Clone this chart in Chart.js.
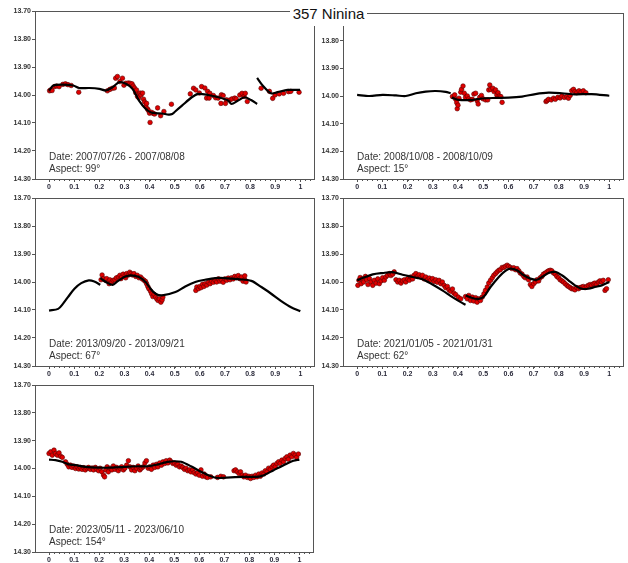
<!DOCTYPE html>
<html>
<head>
<meta charset="utf-8">
<script src="https://cdn.jsdelivr.net/npm/chart.js@4.4.1/dist/chart.umd.min.js"></script>
<style>
  html, body { margin: 0; padding: 0; background: #fff; }
  body { width: 628px; height: 563px; position: relative; overflow: hidden; font-family: "Liberation Sans", Arial, sans-serif; }
  .panel { position: absolute; }
  #title {
    position: absolute; left: 290px; top: 0; width: 77px; height: 26px;
    background: #fff; z-index: 5; text-align: center;
    font-size: 15px; line-height: 27px; color: #111;
  }
</style>
</head>
<body>
<div id="title">357 Ninina</div>
<div class="panel" id="w1"><canvas id="c1"></canvas></div>
<div class="panel" id="w2"><canvas id="c2"></canvas></div>
<div class="panel" id="w3"><canvas id="c3"></canvas></div>
<div class="panel" id="w4"><canvas id="c4"></canvas></div>
<div class="panel" id="w5"><canvas id="c5"></canvas></div>
<script>
// --- axes ---
const xTicks = [0, 0.1, 0.2, 0.3, 0.4, 0.5, 0.6, 0.7, 0.8, 0.9, 1];
const yTicks = [13.7, 13.8, 13.9, 14.0, 14.1, 14.2, 14.3];

// --- annotations ---
const dates = ['2007/07/26 - 2007/08/08', '2008/10/08 - 2008/10/09', '2013/09/20 - 2013/09/21', '2021/01/05 - 2021/01/31', '2023/05/11 - 2023/06/10'];
const aspects = [99, 15, 67, 62, 154];

// --- panel 1 (2007) : model line [phase, mag], null = break ---
const p1Model = [[0,13.984],[0.017,13.966],[0.056,13.963],[0.096,13.966],[0.12,13.975],[0.16,13.975],[0.2,13.978],[0.227,13.984],
  [0.253,13.972],[0.28,13.954],[0.306,13.96],[0.332,13.978],[0.358,14.02],[0.385,14.05],[0.411,14.064],[0.45,14.066],[0.476,14.07],
  [0.49,14.068],[0.503,14.058],[0.529,14.038],[0.568,14.008],[0.594,13.996],[0.634,14.0],[0.673,14.008],[0.713,14.02],[0.726,14.032],
  [0.752,14.02],[0.778,14.008],[0.804,14.018],[0.828,14.032], null,
  [0.828,13.939],[0.85,13.966],[0.883,13.994],[0.909,13.99],[0.949,13.982],[0.999,13.982]];
const p1Obs = [[0.002,13.985],[0.006,13.982],[0.012,13.984],[0.022,13.97],[0.03,13.968],[0.04,13.97],[0.055,13.962],[0.065,13.96],
  [0.075,13.963],[0.088,13.966],[0.118,13.99],[0.232,13.985],[0.242,13.98],[0.252,13.976],[0.26,13.975],[0.265,13.94],[0.272,13.934],
  [0.282,13.952],[0.292,13.94],[0.298,13.965],[0.305,13.958],[0.315,13.957],[0.322,13.958],[0.33,13.96],[0.335,13.968],[0.34,13.975],
  [0.345,13.992],[0.348,13.982],[0.352,14.005],[0.357,14.01],[0.362,13.993],[0.366,14.0],[0.372,13.993],[0.376,14.015],[0.38,14.025],
  [0.385,14.04],[0.388,14.03],[0.392,14.05],[0.395,14.055],[0.4,14.065],[0.402,14.098],[0.408,14.062],[0.415,14.066],[0.42,14.068],
  [0.432,14.046],[0.444,14.074],[0.457,14.059],[0.487,14.033],[0.562,13.996],[0.575,13.976],[0.584,13.982],[0.598,13.993],[0.607,13.97],
  [0.62,13.975],[0.627,14.011],[0.631,13.987],[0.637,14.011],[0.64,13.994],[0.654,14.002],[0.663,14.01],[0.673,14.011],[0.684,14.03],
  [0.686,13.999],[0.693,14.002],[0.702,14.03],[0.706,14.017],[0.719,14.018],[0.728,14.014],[0.739,14.011],[0.745,14.014],[0.759,14.0],
  [0.768,13.994],[0.776,14.005],[0.781,13.994],[0.789,14.023],[0.844,13.976],[0.877,13.987],[0.89,14.012],[0.899,14.0],[0.916,13.996],
  [0.933,13.994],[0.953,13.988],[0.962,13.987],[0.995,13.99]];

// --- panel 2 (2008) ---
const p2Model = [[0,13.996],[0.049,14.0],[0.101,13.996],[0.154,13.998],[0.193,14.0],[0.233,13.99],[0.272,13.984],[0.312,13.982],
  [0.351,13.985],[0.371,13.99], null,
  [0.375,14.006],[0.404,14.014],[0.457,14.014],[0.496,14.009],[0.549,14.007],[0.601,14.006],[0.654,14.002],[0.707,13.993],
  [0.759,13.988],[0.812,13.99],[0.864,13.994],[0.93,13.993],[1.0,13.999]];
const p2Obs = [[0.378,14.002],[0.387,13.996],[0.391,14.012],[0.395,14.024],[0.397,14.046],[0.4,14.033],[0.404,14.008],[0.411,13.986],
  [0.414,13.976],[0.42,13.964],[0.425,13.99],[0.43,14.005],[0.437,14.0],[0.443,14.01],[0.45,14.014],[0.457,14.012],[0.463,13.993],
  [0.47,13.99],[0.476,14.017],[0.48,14.029],[0.486,14.005],[0.493,13.998],[0.499,14.01],[0.509,14.014],[0.518,14.014],[0.522,13.978],
  [0.526,13.96],[0.53,13.976],[0.538,13.972],[0.543,13.984],[0.549,13.978],[0.554,13.996],[0.559,13.988],[0.564,14.0],[0.57,14.002],
  [0.575,14.023],[0.749,14.02],[0.753,14.017],[0.759,14.012],[0.77,14.014],[0.779,14.008],[0.786,14.012],[0.796,14.005],[0.805,14.007],
  [0.812,14.0],[0.822,14.005],[0.832,14.002],[0.838,14.008],[0.845,13.998],[0.851,13.981],[0.858,13.976],[0.864,13.984],[0.871,13.988],
  [0.88,13.981],[0.888,13.986],[0.897,13.981],[0.907,13.988]];

// --- panel 3 (2013) ---
const p3Model = [[0,14.102],[0.036,14.096],[0.055,14.078],[0.075,14.054],[0.101,14.024],[0.128,14.004],[0.158,13.994],[0.18,13.998],
  [0.204,14.01], null,
  [0.204,13.986],[0.226,14.0],[0.253,14.01],[0.272,13.998],[0.299,13.982],[0.325,13.976],[0.358,13.982],[0.384,14.0],[0.404,14.024],
  [0.424,14.042],[0.45,14.048],[0.503,14.036],[0.542,14.016],[0.582,14.0],[0.621,13.992],[0.661,13.986],[0.7,13.986],[0.753,13.99],
  [0.805,13.996],[0.845,14.018],[0.884,14.042],[0.924,14.068],[0.963,14.09],[1.0,14.104]];
const p3Obs = [[0.207,13.992],[0.211,13.975],[0.216,13.988],[0.224,13.994],[0.229,13.988],[0.237,13.997],[0.239,14.006],[0.242,13.992],
  [0.25,14.0],[0.255,13.994],[0.262,13.992],[0.268,13.985],[0.276,13.982],[0.282,13.976],[0.286,13.988],[0.289,13.982],[0.295,13.972],
  [0.303,13.977],[0.305,13.985],[0.309,13.97],[0.316,13.975],[0.321,13.965],[0.326,13.97],[0.332,13.975],[0.338,13.97],[0.345,13.98],
  [0.351,13.976],[0.358,13.985],[0.364,13.982],[0.371,13.989],[0.378,13.994],[0.384,13.998],[0.388,14.006],[0.393,14.016],[0.397,14.024],
  [0.404,14.033],[0.408,14.042],[0.413,14.052],[0.418,14.044],[0.424,14.054],[0.429,14.061],[0.434,14.066],[0.439,14.06],[0.445,14.072],
  [0.45,14.064],[0.453,14.054],[0.584,14.03],[0.588,14.018],[0.595,14.024],[0.6,14.016],[0.605,14.02],[0.611,14.008],[0.616,14.016],
  [0.621,14.006],[0.628,14.011],[0.634,14.001],[0.641,14.006],[0.647,13.997],[0.654,14.001],[0.661,13.994],[0.667,14.0],[0.674,13.989],
  [0.68,13.997],[0.687,13.992],[0.693,14.001],[0.7,13.989],[0.707,13.994],[0.713,13.986],[0.72,13.992],[0.726,13.985],[0.733,13.989],
  [0.739,13.98],[0.746,13.985],[0.753,13.977],[0.759,13.988],[0.766,13.982],[0.772,13.997],[0.779,13.992],[0.779,13.978],[0.784,14.0]];

// --- panel 4 (2021) ---
const p4Model = [[0,13.994],[0.022,13.986],[0.062,13.973],[0.101,13.968],[0.141,13.965],[0.18,13.974],[0.22,13.982],[0.259,13.99],
  [0.299,14.009],[0.338,14.03],[0.378,14.054],[0.411,14.072],[0.43,14.081], null,
  [0.43,14.048],[0.457,14.057],[0.483,14.06],[0.503,14.052],[0.529,14.018],[0.562,13.982],[0.588,13.96],[0.608,13.952],[0.634,13.958],
  [0.661,13.976],[0.687,13.988],[0.713,13.992],[0.733,13.982],[0.759,13.968],[0.786,13.964],[0.812,13.976],[0.838,13.994],
  [0.864,14.012],[0.891,14.024],[0.917,14.024],[0.943,14.018],[0.97,14.012],[1.0,14.0]];
const p4Obs = [[0.003,14.012],[0.007,13.994],[0.012,13.984],[0.016,14.006],[0.022,13.988],[0.026,14.0],[0.033,13.98],[0.038,13.992],
  [0.043,14.009],[0.049,13.988],[0.055,14.0],[0.062,14.012],[0.068,13.994],[0.075,14.004],[0.082,13.989],[0.088,14.006],[0.095,13.996],
  [0.101,13.985],[0.108,13.994],[0.114,13.982],[0.121,13.976],[0.128,13.97],[0.134,13.977],[0.141,13.972],[0.147,13.964],[0.154,13.992],
  [0.161,14.0],[0.167,13.994],[0.174,14.004],[0.18,13.996],[0.187,13.992],[0.193,14.0],[0.2,13.989],[0.207,13.994],[0.213,13.982],
  [0.22,13.989],[0.226,13.976],[0.233,13.97],[0.239,13.98],[0.246,13.974],[0.253,13.982],[0.259,13.976],[0.266,13.989],[0.272,13.982],
  [0.279,13.992],[0.286,13.986],[0.292,13.994],[0.299,13.988],[0.305,13.998],[0.312,13.992],[0.318,14.001],[0.325,13.994],[0.332,14.006],
  [0.338,14.0],[0.345,14.012],[0.351,14.02],[0.358,14.016],[0.364,14.028],[0.371,14.033],[0.378,14.025],[0.384,14.04],[0.391,14.045],
  [0.401,14.054],[0.411,14.06],[0.43,14.052],[0.437,14.06],[0.443,14.048],[0.45,14.066],[0.457,14.054],[0.463,14.068],[0.47,14.056],
  [0.476,14.072],[0.483,14.06],[0.489,14.066],[0.496,14.054],[0.503,14.042],[0.509,14.03],[0.516,14.018],[0.522,14.004],[0.529,13.994],
  [0.536,13.985],[0.542,13.976],[0.549,13.97],[0.555,13.964],[0.562,13.958],[0.568,13.956],[0.575,13.948],[0.582,13.948],[0.588,13.944],
  [0.595,13.94],[0.601,13.944],[0.608,13.948],[0.614,13.952],[0.621,13.949],[0.628,13.956],[0.634,13.952],[0.641,13.96],[0.647,13.968],
  [0.654,13.972],[0.661,13.98],[0.667,13.985],[0.674,13.982],[0.68,13.992],[0.687,14.009],[0.693,14.016],[0.7,14.006],[0.707,14.0],
  [0.713,13.992],[0.72,13.996],[0.726,13.985],[0.733,13.98],[0.739,13.972],[0.746,13.968],[0.753,13.964],[0.759,13.96],[0.766,13.958],
  [0.772,13.96],[0.779,13.968],[0.786,13.972],[0.792,13.98],[0.799,13.985],[0.805,13.992],[0.812,13.996],[0.818,14.0],[0.825,14.006],
  [0.832,14.012],[0.838,14.016],[0.845,14.02],[0.851,14.024],[0.858,14.025],[0.864,14.028],[0.871,14.02],[0.878,14.024],[0.884,14.02],
  [0.891,14.018],[0.897,14.016],[0.904,14.02],[0.911,14.016],[0.917,14.012],[0.924,14.009],[0.93,14.012],[0.937,14.006],[0.943,14.004],
  [0.95,14.009],[0.957,14.0],[0.963,13.996],[0.97,14.0],[0.976,13.994],[0.983,14.03],[0.989,14.024],[0.996,13.992]];

// --- panel 5 (2023) ---
const p5Model = [[0,13.968],[0.026,13.97],[0.053,13.976],[0.079,13.985],[0.106,13.988],[0.145,13.994],[0.198,13.997],[0.251,13.997],
  [0.303,13.994],[0.356,13.992],[0.396,13.992],[0.435,13.985],[0.475,13.976],[0.501,13.974],[0.528,13.976],[0.567,13.992],[0.607,14.012],
  [0.646,14.028],[0.673,14.034],[0.726,14.032],[0.778,14.03],[0.831,14.03],[0.858,14.024],[0.897,14.006],[0.937,13.988],[0.976,13.972],
  [1.0,13.968]];
const p5Obs = [[0,13.946],[0.007,13.94],[0.013,13.952],[0.02,13.934],[0.026,13.946],[0.033,13.952],[0.04,13.944],[0.046,13.956],
  [0.053,13.96],[0.066,13.976],[0.073,13.985],[0.079,13.994],[0.086,13.988],[0.092,13.996],[0.099,13.991],[0.106,14.0],[0.112,13.994],
  [0.119,14.002],[0.125,13.996],[0.132,14.003],[0.139,13.997],[0.145,14.005],[0.152,13.999],[0.158,13.996],[0.165,14.003],[0.172,13.998],
  [0.178,14.005],[0.185,13.996],[0.191,14.003],[0.198,14.008],[0.204,13.999],[0.211,14.012],[0.218,14.024],[0.222,14.03],[0.227,14.005],
  [0.232,13.994],[0.237,14.012],[0.244,13.999],[0.251,14.005],[0.257,13.991],[0.264,14.003],[0.27,13.996],[0.277,14.008],[0.284,13.999],
  [0.29,13.994],[0.297,14.005],[0.303,13.999],[0.31,13.988],[0.317,13.972],[0.323,13.994],[0.33,14.005],[0.336,13.996],[0.343,14.008],
  [0.35,13.999],[0.356,13.991],[0.363,14.005],[0.369,13.999],[0.376,13.994],[0.383,13.98],[0.389,13.972],[0.396,13.999],[0.402,13.994],
  [0.409,14.003],[0.416,13.988],[0.422,13.996],[0.429,13.985],[0.435,13.994],[0.442,13.98],[0.449,13.988],[0.455,13.976],[0.462,13.982],
  [0.468,13.972],[0.475,13.98],[0.482,13.97],[0.488,13.976],[0.495,13.982],[0.501,13.98],[0.508,13.988],[0.515,13.985],[0.521,13.994],
  [0.528,13.991],[0.534,13.996],[0.541,14.003],[0.547,13.999],[0.554,14.008],[0.561,14.005],[0.567,14.012],[0.574,14.005],[0.58,14.015],
  [0.587,14.02],[0.594,14.015],[0.6,14.024],[0.607,14.005],[0.613,14.028],[0.62,14.02],[0.627,14.03],[0.633,14.032],[0.646,14.03],
  [0.673,14.032],[0.686,14.028],[0.697,14.03],[0.739,14.008],[0.745,14.005],[0.752,14.012],[0.759,14.018],[0.765,14.012],[0.772,14.024],
  [0.778,14.03],[0.785,14.024],[0.792,14.032],[0.798,14.028],[0.805,14.036],[0.811,14.028],[0.818,14.032],[0.825,14.024],[0.831,14.03],
  [0.838,14.02],[0.844,14.028],[0.851,14.016],[0.858,14.02],[0.864,14.008],[0.871,14.012],[0.877,13.999],[0.884,14.003],[0.891,13.994],
  [0.897,13.988],[0.904,13.994],[0.91,13.982],[0.917,13.976],[0.923,13.982],[0.93,13.97],[0.937,13.976],[0.943,13.964],[0.95,13.958],
  [0.956,13.967],[0.963,13.952],[0.97,13.958],[0.976,13.946],[0.983,13.952],[0.989,13.96],[0.996,13.948]];

// plot boxes in page pixels: [left, top, right, bottom]
const panels = [
  { id: 1, box: [35, 11, 317, 179], model: p1Model, obs: p1Obs },
  { id: 2, box: [343, 13, 626, 179], model: p2Model, obs: p2Obs },
  { id: 3, box: [35, 198, 317, 366], model: p3Model, obs: p3Obs },
  { id: 4, box: [343, 198, 626, 366], model: p4Model, obs: p4Obs },
  { id: 5, box: [35, 385, 316, 552], model: p5Model, obs: p5Obs }
];

const toXY = arr => arr.map(p => p ? { x: p[0], y: p[1] } : { x: null, y: null });

// frame + minor ticks + date/aspect text
const framePlugin = {
  id: 'frame',
  afterDraw(chart, args, opts) {
    const { ctx, chartArea: a } = chart;
    const xs = chart.scales.x;
    ctx.save();
    ctx.strokeStyle = '#555';
    ctx.lineWidth = 1;
    ctx.strokeRect(Math.round(a.left) + 0.5, Math.round(a.top) + 0.5, Math.round(a.right - a.left), Math.round(a.bottom - a.top));
    ctx.beginPath();
    for (let i = 0; i <= 52; i++) {
      const px = Math.round(xs.getPixelForValue(i / 50)) + 0.5;
      ctx.moveTo(px, a.bottom);
      ctx.lineTo(px, a.bottom + 2);
    }
    ctx.stroke();
    ctx.fillStyle = '#333';
    ctx.font = '10px "Liberation Sans", Arial, sans-serif';
    ctx.textBaseline = 'alphabetic';
    const tx = xs.getPixelForValue(0);
    ctx.fillText('Date: ' + opts.date, tx, a.bottom - 19);
    ctx.fillText('Aspect: ' + opts.aspect + '\u00B0', tx, a.bottom - 7);
    ctx.restore();
  }
};

panels.forEach((p, i) => {
  const [L, T, R, B] = p.box;
  const left = L - 35, top = T - 13, width = R - left + 2, height = B - top + 16;
  const wrap = document.getElementById('w' + p.id);
  Object.assign(wrap.style, { left: left + 'px', top: top + 'px', width: width + 'px', height: height + 'px' });

  new Chart(document.getElementById('c' + p.id), {
    type: 'scatter',
    data: {
      datasets: [
        {
          type: 'line',
          data: toXY(p.model),
          borderColor: '#000',
          borderWidth: 2.2,
          pointRadius: 0,
          tension: 0.3,
          spanGaps: false,
          order: 0
        },
        {
          data: toXY(p.obs),
          backgroundColor: '#e00000',
          borderColor: '#5a0000',
          borderWidth: 0.6,
          pointRadius: 2.3,
          order: 1
        }
      ]
    },
    options: {
      responsive: true,
      maintainAspectRatio: false,
      animation: false,
      events: [],
      layout: { padding: { top: T - top, right: left + width - R, left: 0, bottom: 0 } },
      plugins: {
        legend: { display: false },
        tooltip: { enabled: false },
        frame: { date: dates[i], aspect: aspects[i] }
      },
      scales: {
        x: {
          type: 'linear',
          min: -0.056,
          max: 1.056,
          afterBuildTicks: s => { s.ticks = xTicks.map(v => ({ value: v })); },
          afterFit: s => { s.height = 16; },
          grid: { drawOnChartArea: false, drawTicks: true, tickLength: 3, color: '#555' },
          border: { display: true, color: '#555' },
          ticks: {
            color: '#2a2a3a',
            padding: 1,
            maxRotation: 0,
            font: { family: '"Liberation Sans", Arial, sans-serif', size: 7, weight: 'bold' },
            callback: v => String(v)
          }
        },
        y: {
          reverse: true,
          min: 13.7,
          max: 14.3,
          afterBuildTicks: s => { s.ticks = yTicks.map(v => ({ value: v })); },
          afterFit: s => { s.width = 35; },
          grid: { drawOnChartArea: false, drawTicks: true, tickLength: 3, color: '#555' },
          border: { display: true, color: '#555' },
          ticks: {
            color: '#333',
            padding: 1,
            font: { family: '"Liberation Sans", Arial, sans-serif', size: 7, weight: 'bold' },
            callback: v => v.toFixed(2)
          }
        }
      }
    },
    plugins: [framePlugin]
  });
});
</script>
</body>
</html>
